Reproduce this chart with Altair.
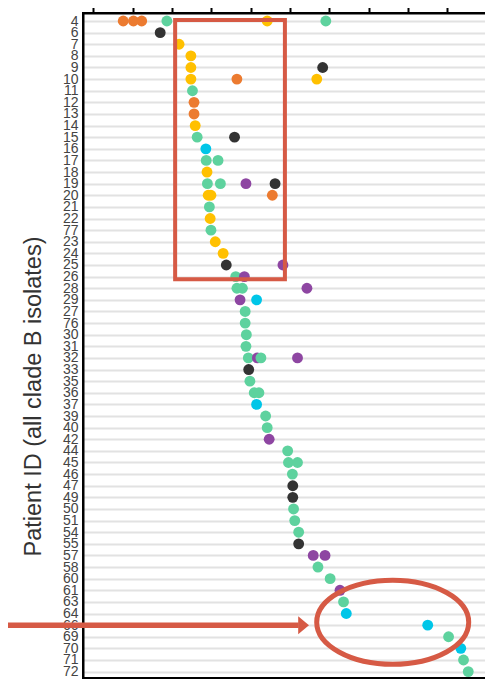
import json
import altair as alt
import pandas as pd

# ---------------- data ----------------
patient_ids = [4, 6, 7, 8, 9, 10, 11, 12, 13, 14, 15, 16, 17, 18, 19, 20, 21, 22, 77, 23,
               24, 25, 26, 28, 29, 27, 76, 30, 31, 32, 33, 35, 36, 37, 39, 40, 42, 44, 45, 46,
               47, 49, 50, 51, 54, 55, 57, 58, 60, 61, 63, 64, 66, 69, 70, 71, 72]

point_patient = [4, 4, 4, 4, 4, 4,
                 6, 7, 8, 9, 9, 10, 10, 10, 11, 12, 13, 14, 15, 15, 16, 17, 17, 18,
                 19, 19, 19, 19, 20, 20, 20, 21, 22, 77, 23, 24, 25, 25, 26, 26,
                 28, 28, 28, 29, 29, 27, 76, 30, 31, 32, 32, 32, 32, 33, 35, 36, 36, 37,
                 39, 40, 42, 44, 45, 45, 46, 47, 49, 50, 51, 54, 55, 57, 57, 58, 60, 61,
                 63, 64, 66, 69, 70, 71, 72]
point_value = [0.76, 1.02, 1.23, 1.87, 4.42, 5.91,
               1.70, 2.18, 2.48, 2.48, 5.83, 2.48, 3.65, 5.68, 2.52, 2.56, 2.56, 2.59, 2.64, 3.59,
               2.86, 2.87, 3.17, 2.89,
               2.90, 3.23, 3.88, 4.62, 2.92, 2.99, 4.55, 2.95, 2.97, 2.99, 3.10, 3.30, 3.38, 4.82,
               3.62, 3.84,
               3.65, 3.79, 5.43, 3.73, 4.15, 3.86, 3.86, 3.89, 3.88, 3.94, 4.17, 4.26, 5.19, 3.95,
               3.98, 4.09, 4.21, 4.15,
               4.38, 4.42, 4.47, 4.94, 4.96, 5.19, 5.06, 5.07, 5.07, 5.09, 5.12, 5.22, 5.22, 5.59,
               5.89, 5.71, 6.02, 6.27,
               6.36, 6.43, 8.50, 9.03, 9.34, 9.41, 9.53]
point_group = ["orange", "orange", "orange", "green", "yellow", "green",
               "black", "yellow", "yellow", "yellow", "black", "yellow", "orange", "yellow",
               "green", "orange", "orange", "yellow", "green", "black", "cyan", "green", "green",
               "yellow",
               "green", "green", "purple", "black", "yellow", "yellow", "orange", "green",
               "yellow", "green", "yellow", "yellow", "black", "purple", "green", "purple",
               "green", "green", "purple", "purple", "cyan", "green", "green", "green", "green",
               "green", "purple", "green", "purple", "black", "green", "green", "green", "cyan",
               "green", "green", "purple", "green", "green", "green", "green", "black", "black",
               "green", "green", "green", "black", "purple", "purple", "green", "green", "purple",
               "green", "cyan", "cyan", "green", "cyan", "green", "green"]

group_names = ["orange", "green", "black", "yellow", "cyan", "purple"]
group_colors = ["#EC7B30", "#5ED29E", "#333333", "#FFC000", "#00C6E8", "#8E46A2"]

x_ticks = list(range(11))

# ---------------- tables ----------------
row_of = {pid: i for i, pid in enumerate(patient_ids)}
points = pd.DataFrame({
    "patient": point_patient,
    "row": [row_of[p] for p in point_patient],
    "value": point_value,
    "group": point_group,
})

RED = "#D65A45"
x_scale = alt.Scale(domain=[-0.262, 10.21], nice=False, zero=False)
y_scale = alt.Scale(domain=[-0.69, 56.55], nice=False, zero=False, reverse=True)

label_expr = json.dumps([str(p) for p in patient_ids]) + "[datum.value]"
n_rows = len(patient_ids)

x_axis = alt.Axis(orient="top", values=x_ticks, tickCount=20, labels=False, ticks=True,
                  tickSize=7, tickWidth=2, tickColor="black", domain=True,
                  domainColor="black", domainWidth=2, grid=False, title=None)
y_axis = alt.Axis(orient="left", values=list(range(n_rows)), tickCount=n_rows + 5,
                  labelExpr=label_expr, ticks=False, labelPadding=5, labelFontSize=14,
                  labelColor="#444444", labelFont="Liberation Sans", labelOverlap=False,
                  domain=True, domainColor="black", domainWidth=2, grid=True,
                  gridColor="#e2e2e2", gridWidth=2,
                  title="Patient ID (all clade B isolates)",
                  titleFont="Liberation Sans", titleFontSize=23.5, titleFontWeight="normal",
                  titleColor="#333333", titleX=-43, titleY=383, titleBaseline="alphabetic",
                  titleAngle=270)

dots = alt.Chart(points).mark_circle(size=118, opacity=1).encode(
    x=alt.X("value:Q", scale=x_scale, axis=x_axis),
    y=alt.Y("row:Q", scale=y_scale, axis=y_axis),
    color=alt.Color("group:N", scale=alt.Scale(domain=group_names, range=group_colors),
                    legend=None),
)

box = alt.Chart(pd.DataFrame({"x": [2.08], "x2": [4.87], "y": [-0.08], "y2": [22.23]})).mark_rect(
    fillOpacity=0, stroke=RED, strokeWidth=4
).encode(x="x:Q", x2="x2:Q", y="y:Q", y2="y2:Q")

ellipse_path = "M -1 0 A 1 0.553 0 1 1 1 0 A 1 0.553 0 1 1 -1 0 Z"
ellipse = alt.Chart(pd.DataFrame({"x": [7.61], "y": [51.75]})).mark_point(
    shape=ellipse_path, size=23104, filled=False, stroke=RED, strokeWidth=5, opacity=1
).encode(x="x:Q", y="y:Q")

shaft = alt.Chart(pd.DataFrame({"x": [-2.3], "x2": [5.22], "y": [52.0]})).mark_rule(
    color=RED, strokeWidth=5.5
).encode(x="x:Q", x2="x2:Q", y="y:Q")

head = alt.Chart(pd.DataFrame({"x": [5.345], "y": [52.0]})).mark_point(
    shape="M -0.6 -1 L 0.6 0 L -0.6 1 Z", size=324, filled=True, fill=RED, opacity=1,
    strokeWidth=0
).encode(x="x:Q", y="y:Q")

chart = alt.layer(dots, box, ellipse, shaft, head).properties(
    width=412, height=665,
    autosize=alt.AutoSizeParams(type="none"),
    padding={"left": 75, "top": 5, "right": -10, "bottom": 2},
).configure_view(stroke="black", strokeWidth=2)

chart.save("out.html", embed_options={"renderer": "svg", "actions": False})
